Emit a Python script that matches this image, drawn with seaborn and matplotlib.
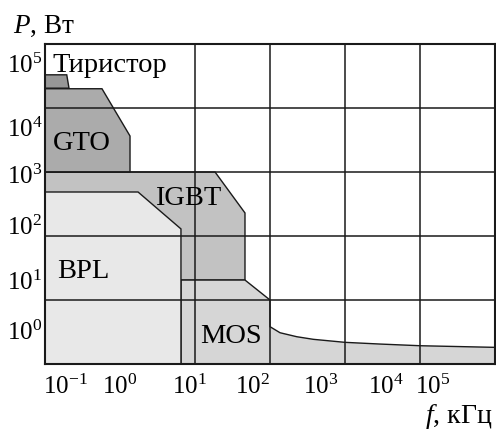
import numpy as np
import matplotlib
matplotlib.use('Agg')
import matplotlib.pyplot as plt
import matplotlib.ticker as mticker
import seaborn as sns

# region outlines, f in kHz, P in W
thyr_f = [0.1, 0.1, 0.195, 0.209]
thyr_p = [2.04e4, 3.3e4, 3.3e4, 2.04e4]
gto_f = [0.1, 0.1, 0.575, 1.36, 1.36]
gto_p = [1e3, 2.0e4, 2.0e4, 3650, 1e3]
igbt_f = [0.1, 0.1, 18.5, 46.4, 46.4, 0.1]
igbt_p = [20.5, 1e3, 1e3, 229, 20.5, 20.5]
mos_f = [6.5, 6.5, 46.4, 100, 100, 136, 227, 378, 1000, 2930, 1e4, 1e5, 1e5]
mos_p = [1, 20.5, 20.5, 10, 3.83, 3.08, 2.67, 2.43, 2.18, 2.05, 1.93, 1.82, 1]
bpl_f = [0.1, 0.1, 1.74, 6.5, 6.5]
bpl_p = [1, 487, 487, 129, 1]

grid_f = [1e-1, 1e0, 1e1, 1e2, 1e3, 1e4, 1e5]
grid_p = [1e0, 1e1, 1e2, 1e3, 1e4, 1e5]

# tick labels sit off the grid lines in the original
xtick_pos = [0.19, 1.0, 8.5, 59, 480, 3550, 14800]
xtick_lab = ['$10^{-1}$', '$10^{0}$', '$10^{1}$', '$10^{2}$', '$10^{3}$', '$10^{4}$', '$10^{5}$']
ytick_pos = [3.4, 20.4, 145, 933, 5000, 50000]
ytick_lab = ['$10^{0}$', '$10^{1}$', '$10^{2}$', '$10^{3}$', '$10^{4}$', '$10^{5}$']

regions = [
    ('IGBT', igbt_f, igbt_p, '#c2c2c2', 2.93, 305),
    ('MOS', mos_f, mos_p, '#d6d6d6', 11.7, 2.13),
    ('BPL', bpl_f, bpl_p, '#e8e8e8', 0.145, 22),
    ('GTO', gto_f, gto_p, '#ababab', 0.128, 2208),
    ('', thyr_f, thyr_p, '#979797', None, None),
]

sns.set_theme(style='white')
plt.rcParams['font.family'] = ['Liberation Serif', 'DejaVu Serif']
plt.rcParams['mathtext.fontset'] = 'custom'
plt.rcParams['mathtext.rm'] = 'Liberation Serif'
plt.rcParams['mathtext.it'] = 'Liberation Serif:italic'
plt.rcParams['text.color'] = 'black'
plt.rcParams['xtick.color'] = 'black'
plt.rcParams['ytick.color'] = 'black'

fig = plt.figure(figsize=(4.96, 4.34), dpi=100)
ax = fig.add_axes([45 / 496, 70 / 434, 450 / 496, 320 / 434])

for name, f, p, col, tx, ty in regions:
    ax.fill(f, p, facecolor=col, edgecolor='#1a1a1a', linewidth=1.0, zorder=1)
    if name:
        ax.text(tx, ty, name, fontsize=20.5, ha='left', va='baseline', zorder=4)

ax.text(0.124, 36500, 'Тиристор', fontsize=20.5, ha='left', va='baseline', zorder=4)

ax.set_xscale('log')
ax.set_yscale('log')
ax.set_xlim(0.1, 1e5)
ax.set_ylim(1, 1e5)

ax.xaxis.set_major_locator(mticker.FixedLocator(xtick_pos))
ax.xaxis.set_major_formatter(mticker.FixedFormatter(xtick_lab))
ax.yaxis.set_major_locator(mticker.FixedLocator(ytick_pos))
ax.yaxis.set_major_formatter(mticker.FixedFormatter(ytick_lab))
ax.xaxis.set_minor_locator(mticker.FixedLocator(grid_f))
ax.yaxis.set_minor_locator(mticker.FixedLocator(grid_p))
ax.xaxis.set_minor_formatter(mticker.NullFormatter())
ax.yaxis.set_minor_formatter(mticker.NullFormatter())
ax.tick_params(which='both', length=0)
ax.tick_params(axis='x', which='major', labelsize=18, pad=8)
ax.tick_params(axis='y', which='major', labelsize=18, pad=2)
ax.grid(False, which='major')
ax.grid(True, which='minor', color='#1a1a1a', linewidth=1.1)
ax.set_axisbelow(False)

for s in ax.spines.values():
    s.set_color('#1a1a1a')
    s.set_linewidth(1.5)
    s.set_zorder(5)

fig.text(13 / 496, 1 - 33 / 434, '$P$, Вт', fontsize=19.5, ha='left', va='baseline')
fig.text(492 / 496, 1 - 423 / 434, '$f$, кГц', fontsize=20, ha='right', va='baseline')

fig.savefig('out.png', dpi=100)
